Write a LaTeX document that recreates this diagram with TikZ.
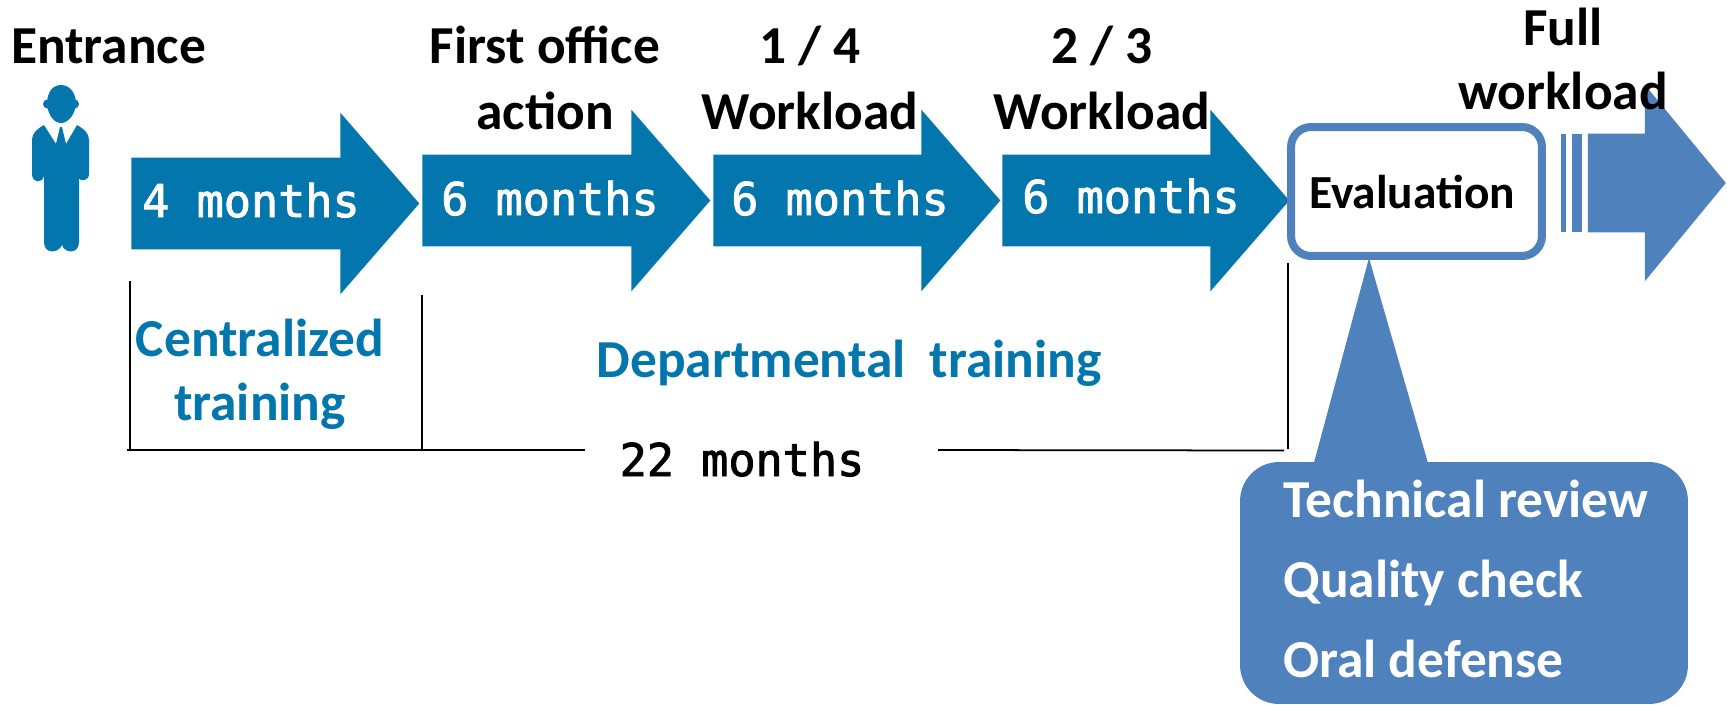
\documentclass[tikz,border=0pt]{standalone}
\usepackage{fontspec}
\setmainfont{Carlito}
\setmonofont[FakeBold=2]{DejaVu Sans Mono}
\usetikzlibrary{shapes,arrows,positioning,calc}
\definecolor{stageblue}{HTML}{0476AE}
\definecolor{evalblue}{HTML}{4F81BD}

\begin{document}
\begin{tikzpicture}[
    x=0.02cm, y=-0.02cm,
    stagearrow/.style={single arrow, fill=stageblue, inner sep=0pt, anchor=tail, text height=1.82cm, text depth=0pt, minimum height=5.76cm, minimum width=3.62cm, single arrow head extend=0.9cm, single arrow tip angle=98},
    monthtext/.style={font=\fontsize{25.7}{30}\selectfont\ttfamily, inner sep=0pt, anchor=base},
    headline/.style={font=\fontsize{30.4}{37}\selectfont\bfseries, align=center, inner sep=0pt, anchor=base},
    trainline/.style={font=\fontsize{30.4}{36.3}\selectfont\bfseries, text=stageblue, align=center, inner sep=0pt, anchor=base},
    stripe/.style={rectangle, fill=evalblue, inner sep=0pt, minimum height=1.96cm},
    spanline/.style={line width=1pt}
]
    \useasboundingbox (0,0) rectangle (1727,704);

    % person
    \fill[stageblue] (47,104) .. controls (47,92) and (53,85) .. (61,85) .. controls (69,85) and (76,92) .. (76,104)
        .. controls (75,115) and (68,123) .. (61,123) .. controls (54,123) and (48,115) .. (47,104) -- cycle;
    \fill[stageblue] (47.5,104) circle (4.5);
    \fill[stageblue] (74.5,104) circle (4.5);
    \fill[stageblue] (44,125) -- (56,144) -- (60,127) -- (62,127) -- (66,144) -- (77,125)
        .. controls (84,129) and (89,133) .. (89,140) -- (89,174) .. controls (89,181) and (80,182) .. (79,178)
        -- (79,242) .. controls (79,254) and (65,254) .. (62,245) .. controls (58,254) and (44,254) .. (44,242)
        -- (44,176) .. controls (42,184) and (32,183) .. (32,174) -- (32,140) .. controls (32,133) and (37,129) .. (44,125) -- cycle;

    % stages
    \node[stagearrow] (stageA) at (131,203.5) {};
    \node[stagearrow] (stageB) at (422,200.5) {};
    \node[stagearrow, minimum height=5.74cm] (stageC) at (713,200.5) {};
    \node[stagearrow, minimum height=5.74cm] (stageD) at (1002,200.5) {};
    \node[monthtext, text=white] (timeA) at (251,217) {4 months};
    \node[monthtext, text=white] (timeB) at (550,215) {6 months};
    \node[monthtext, text=white] (timeC) at (840,215) {6 months};
    \node[monthtext, text=white] (timeD) at (1131,213) {6 months};

    % headings
    \node[headline] (entrance) at (108.5,63) {Entrance};
    \node[headline] (office) at (545,129) {First office\\action};
    \node[headline] (quarter) at (810,129) {1 / 4\\Workload};
    \node[headline] (twothird) at (1102,129) {2 / 3\\Workload};

    % evaluation and what follows
    \coordinate (apex) at (1369,258);
    \coordinate (baseL) at (1312,470);
    \coordinate (baseR) at (1430,470);
    \fill[evalblue] (apex) -- (baseR) -- (baseL) -- cycle;
    \node[rectangle, draw=evalblue, line width=0.16cm, fill=white, rounded corners=0.4cm, minimum width=5.02cm, minimum height=2.58cm, inner sep=0pt, font=\fontsize{27}{32}\selectfont\bfseries] (evaluation) at (1416.5,191.5) {Evaluation\kern0.18cm\relax};
    \node[rectangle, fill=evalblue, rounded corners=0.78cm, minimum width=8.96cm, minimum height=4.84cm, inner sep=0pt] (checks) at (1464,583) {};
    \node[text=white, inner sep=0pt, anchor=base west, font=\fontsize{30.4}{45.3}\selectfont\bfseries, align=left] (review) at (1283,677) {Technical review\\Quality check\\Oral defense};

    \node[single arrow, fill=evalblue, inner sep=0pt, anchor=tail, text height=1.96cm, text depth=0pt, minimum height=2.76cm, minimum width=3.92cm, single arrow head extend=0.98cm, single arrow tip angle=101] (fullarrow) at (1587.5,183) {};
    \node[stripe, minimum width=0.2cm, left=0.1cm of fullarrow.tail] (stripeB) {};
    \node[stripe, minimum width=0.1cm, left=0.1cm of stripeB] (stripeA) {};
    \node[headline, font=\fontsize{30.4}{36.3}\selectfont\bfseries] (full) at (1563,109) {Full\\workload};

    % span of the training
    \coordinate (spanA) at (130,281);
    \coordinate (spanAb) at (130,450);
    \coordinate (spanB) at (422,295);
    \coordinate (spanBb) at (422,450);
    \coordinate (spanC) at (1288,263);
    \coordinate (spanCb) at (1288,449);
    \coordinate (lineA) at (127,450);
    \coordinate (lineB) at (585,450);
    \coordinate (lineC) at (938,450);
    \coordinate (lineD) at (1284,450.5);
    \draw[spanline] (spanA) -- (spanAb);
    \draw[spanline] (spanB) -- (spanBb);
    \draw[spanline] (spanC) -- (spanCb);
    \draw[spanline] (lineA) -- (lineB);
    \draw[spanline] (lineC) -- (lineD);
    \node[monthtext] (total) at (742,476) {22 months};

    \node[trainline] (central) at (260,420) {Centralized\\training};
    \node[trainline] (department) at (849,377) {Departmental~ training};
\end{tikzpicture}
\end{document}
